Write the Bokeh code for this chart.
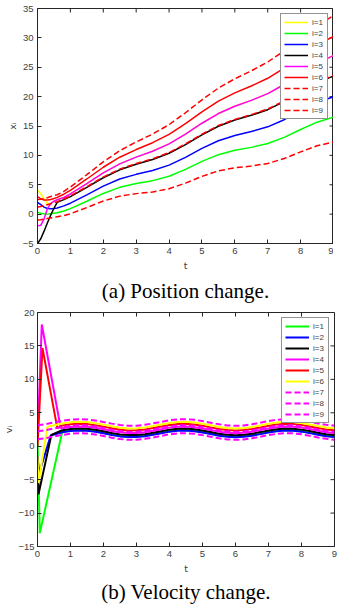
import math
from bokeh.plotting import figure
from bokeh.models import Title, FixedTicker, Range1d
from bokeh.layouts import column
from bokeh.embed import file_html
from bokeh.resources import INLINE

# ---------------- data: (a) position ----------------
t_pos = [0.0, 0.1, 0.2, 0.3, 0.4, 0.5, 0.6, 0.8, 1.0, 1.5, 2.0, 2.5, 3.0, 3.5, 4.0,
         4.5, 5.0, 5.5, 6.0, 6.5, 7.0, 7.5, 8.0, 8.5, 9.0]
x1 = [4.0, 3.5, 2.6, 1.8, 1.8, 2.2, 2.45, 2.83, 3.43, 5.19, 7.02, 8.56, 9.70, 10.70, 11.95,
      13.62, 15.47, 17.12, 18.36, 19.36, 20.51, 22.06, 23.90, 25.65, 27.00]
x2 = [0.3, 0.15, 0.05, 0.0, 0.05, 0.15, 0.25, 0.53, 0.93, 2.19, 3.52, 4.56, 5.20, 5.70, 6.45,
      7.62, 8.97, 10.12, 10.86, 11.36, 12.01, 13.06, 14.40, 15.65, 16.50]
x3 = [2.0, 1.6, 1.2, 0.95, 0.9, 0.95, 1.05, 1.40, 1.86, 3.28, 4.77, 5.97, 6.77, 7.43, 8.34,
      9.67, 11.18, 12.49, 13.39, 14.05, 14.86, 16.07, 17.57, 18.98, 19.99]
x4 = [-5.0, -4.2, -2.9, -1.5, -0.2, 1.0, 2.0, 2.46, 2.98, 4.55, 6.19, 7.54, 8.49, 9.30, 10.36,
      11.84, 13.50, 14.96, 16.01, 16.82, 17.78, 19.14, 20.79, 22.35, 23.51]
x5 = [-2.0, -1.9, -0.8, 0.9, 1.8, 2.2, 2.45, 2.83, 3.43, 5.19, 7.02, 8.56, 9.70, 10.70, 11.95,
      13.62, 15.47, 17.12, 18.36, 19.36, 20.51, 22.06, 23.90, 25.65, 27.00]
x6 = [3.0, 2.6, 2.4, 2.4, 2.5, 2.65, 2.85, 3.39, 4.06, 5.98, 7.98, 9.69, 10.99, 12.16, 13.57,
      15.40, 17.42, 19.24, 20.64, 21.81, 23.12, 24.84, 26.84, 28.76, 30.27]
x7 = [2.5, 2.55, 2.65, 2.8, 3.0, 3.15, 3.3, 3.87, 4.61, 6.72, 8.90, 10.79, 12.28, 13.63, 15.23,
      17.25, 19.45, 21.45, 23.04, 24.39, 25.89, 27.79, 29.98, 32.08, 33.78]
x8 = [1.2, 1.3, 1.45, 1.6, 1.75, 1.95, 2.1, 2.58, 3.10, 4.67, 6.31, 7.66, 8.61, 9.42, 10.48,
      11.96, 13.62, 15.08, 16.13, 16.94, 17.90, 19.26, 20.91, 22.47, 23.60]
x9 = [-1.0, -0.95, -0.85, -0.75, -0.65, -0.55, -0.45, -0.26, 0.06, 1.11, 2.23, 3.06, 3.49, 3.78, 4.32,
      5.28, 6.42, 7.36, 7.89, 8.18, 8.62, 9.46, 10.59, 11.63, 12.27]
pos_series = [x1, x2, x3, x4, x5, x6, x7, x8, x9]
pos_colors = ["#FFFF00", "#00FF00", "#0000FF", "#000000", "#FF00FF", "#FF0000",
              "#FF0000", "#FF0000", "#FF0000"]
pos_dashed = [False] * 6 + [True] * 3
labels = ["i=1", "i=2", "i=3", "i=4", "i=5", "i=6", "i=7", "i=8", "i=9"]

# ---------------- data: (b) velocity ----------------
t_steady = [0.75, 1.0, 1.25, 1.5, 1.75, 2.0, 2.25, 2.5, 2.75, 3.0, 3.25, 3.5, 3.75, 4.0,
            4.25, 4.5, 4.75, 5.0, 5.25, 5.5, 5.75, 6.0, 6.25, 6.5, 6.75, 7.0, 7.25, 7.5,
            7.75, 8.0, 8.25, 8.5, 8.75, 9.0]
v1_t0 = [0.0, 0.07]
v1_v0 = [1.0, -13.0]
v1 = [2.16, 2.34, 2.42, 2.38, 2.22, 2.00, 1.75, 1.54, 1.43, 1.44, 1.57, 1.78, 2.02, 2.25, 2.39,
      2.42, 2.32, 2.13, 1.89, 1.65, 1.48, 1.42, 1.48, 1.65, 1.88, 2.13, 2.32, 2.42, 2.39, 2.25,
      2.03, 1.78, 1.57, 1.44]
v2_t0 = [0.0, 0.05, 0.4]
v2_v0 = [-1.5, -4.0, 1.6]
v2 = [2.09, 2.27, 2.35, 2.31, 2.15, 1.93, 1.68, 1.47, 1.36, 1.37, 1.50, 1.71, 1.95, 2.18, 2.32,
      2.35, 2.25, 2.06, 1.82, 1.58, 1.41, 1.35, 1.41, 1.58, 1.81, 2.06, 2.25, 2.35, 2.32, 2.18,
      1.96, 1.71, 1.50, 1.37]
v3_t0 = [0.0, 0.03, 0.42]
v3_v0 = [-1.5, -7.2, 1.7]
v3 = [2.39, 2.57, 2.65, 2.61, 2.45, 2.23, 1.98, 1.77, 1.66, 1.67, 1.80, 2.01, 2.25, 2.48, 2.62,
      2.65, 2.55, 2.36, 2.12, 1.88, 1.71, 1.65, 1.71, 1.88, 2.11, 2.36, 2.55, 2.65, 2.62, 2.48,
      2.26, 2.01, 1.80, 1.67]
v4_t0 = [0.0, 0.13, 0.7]
v4_v0 = [1.0, 18.2, 2.8]
v4 = [2.69, 2.87, 2.95, 2.91, 2.75, 2.53, 2.28, 2.07, 1.96, 1.97, 2.10, 2.31, 2.55, 2.78, 2.92,
      2.95, 2.85, 2.66, 2.42, 2.18, 2.01, 1.95, 2.01, 2.18, 2.41, 2.66, 2.85, 2.95, 2.92, 2.78,
      2.56, 2.31, 2.10, 1.97]
v5_t0 = [0.0, 0.15, 0.6]
v5_v0 = [0.0, 14.7, 2.7]
v5 = [3.09, 3.27, 3.35, 3.31, 3.15, 2.93, 2.68, 2.47, 2.36, 2.37, 2.50, 2.71, 2.95, 3.18, 3.32,
      3.35, 3.25, 3.06, 2.82, 2.58, 2.41, 2.35, 2.41, 2.58, 2.81, 3.06, 3.25, 3.35, 3.32, 3.18,
      2.96, 2.71, 2.50, 2.37]
v6_t0 = [0.0, 0.03, 0.3]
v6_v0 = [-1.5, -5.5, 2.9]
v6 = [3.39, 3.57, 3.65, 3.61, 3.45, 3.23, 2.98, 2.77, 2.66, 2.67, 2.80, 3.01, 3.25, 3.48, 3.62,
      3.65, 3.55, 3.36, 3.12, 2.88, 2.71, 2.65, 2.71, 2.88, 3.11, 3.36, 3.55, 3.65, 3.62, 3.48,
      3.26, 3.01, 2.80, 2.67]
v7_t0 = [0.0, 0.25, 0.5]
v7_v0 = [3.13, 3.31, 3.55]
v7 = [3.79, 3.97, 4.05, 4.01, 3.85, 3.63, 3.38, 3.17, 3.06, 3.07, 3.20, 3.41, 3.65, 3.88, 4.02,
      4.05, 3.95, 3.76, 3.52, 3.28, 3.11, 3.05, 3.11, 3.28, 3.51, 3.76, 3.95, 4.05, 4.02, 3.88,
      3.66, 3.41, 3.20, 3.07]
v8_t0 = [0.0, 0.25, 0.5]
v8_v0 = [2.23, 2.41, 2.65]
v8 = [2.89, 3.07, 3.15, 3.11, 2.95, 2.73, 2.48, 2.27, 2.16, 2.17, 2.30, 2.51, 2.75, 2.98, 3.12,
      3.15, 3.05, 2.86, 2.62, 2.38, 2.21, 2.15, 2.21, 2.38, 2.61, 2.86, 3.05, 3.15, 3.12, 2.98,
      2.76, 2.51, 2.30, 2.17]
v9_t0 = [0.0, 0.25, 0.5]
v9_v0 = [1.03, 1.21, 1.45]
v9 = [1.69, 1.87, 1.95, 1.91, 1.75, 1.53, 1.28, 1.07, 0.96, 0.97, 1.10, 1.31, 1.55, 1.78, 1.92,
      1.95, 1.85, 1.66, 1.42, 1.18, 1.01, 0.95, 1.01, 1.18, 1.41, 1.66, 1.85, 1.95, 1.92, 1.78,
      1.56, 1.31, 1.10, 0.97]
vel_t0 = [v1_t0, v2_t0, v3_t0, v4_t0, v5_t0, v6_t0, v7_t0, v8_t0, v9_t0]
vel_v0 = [v1_v0, v2_v0, v3_v0, v4_v0, v5_v0, v6_v0, v7_v0, v8_v0, v9_v0]
vel_series = [v1, v2, v3, v4, v5, v6, v7, v8, v9]
vel_colors = ["#00FF00", "#0000FF", "#000000", "#FF00FF", "#FF0000", "#FFFF00",
              "#FF00FF", "#FF00FF", "#FF00FF"]
vel_dashed = [False] * 6 + [True] * 3

x_ticks = [0, 1, 2, 3, 4, 5, 6, 7, 8, 9]
y_ticks_a = [-5, 0, 5, 10, 15, 20, 25, 30, 35]
y_ticks_b = [-15, -10, -5, 0, 5, 10, 15, 20]

AX = "#262626"
LBL = "#404040"
SANS = "Liberation Sans"


def style_axis(ax, tick_standoff):
    ax.axis_line_color = AX
    ax.axis_line_width = 1
    ax.major_tick_in = 4
    ax.major_tick_out = 0
    ax.major_tick_line_color = AX
    ax.minor_tick_line_color = None
    ax.major_label_text_font = SANS
    ax.major_label_text_color = LBL
    ax.major_label_text_font_size = "9.5px"
    ax.major_label_standoff = tick_standoff
    ax.axis_label_text_font = "DejaVu Sans"
    ax.axis_label_text_font_style = "normal"
    ax.axis_label_text_color = LBL
    ax.axis_label_text_font_size = "9.5px"


def make_panel(yr, yticks, ylabel, caption, borders, frame, cap_standoff, ystand):
    left, right, top, bottom = borders
    fw, fh = frame
    p = figure(frame_width=fw, frame_height=fh, x_range=Range1d(0, 9), y_range=yr,
               output_backend="svg", toolbar_location=None,
               min_border_left=left, min_border_right=right,
               min_border_top=top, min_border_bottom=bottom)
    p.grid.visible = False
    p.outline_line_color = AX
    p.outline_line_width = 1
    p.background_fill_color = "white"
    p.border_fill_color = "white"
    p.xaxis.ticker = FixedTicker(ticks=x_ticks)
    p.yaxis.ticker = FixedTicker(ticks=yticks)
    p.xaxis.axis_label = "t"
    p.yaxis.axis_label = ylabel
    for ax in p.xaxis:
        style_axis(ax, 4)
    for ax in p.yaxis:
        style_axis(ax, ystand[0])
    p.xaxis.axis_label_standoff = 3
    p.yaxis.axis_label_standoff = ystand[1]
    # inward tick marks on the right and top edges of the box
    p.ray(x=[9] * len(yticks), y=yticks, length=4, length_units="screen",
          angle=math.pi, line_color=AX, line_width=1)
    p.ray(x=x_ticks, y=[yr.end] * len(x_ticks), length=4, length_units="screen",
          angle=-math.pi / 2, line_color=AX, line_width=1)
    p.add_layout(Title(text=caption, align="center", text_font="Liberation Serif",
                       text_font_size="21px", text_font_style="normal",
                       text_color="#000000", standoff=cap_standoff), "below")
    return p


def style_legend(p):
    lg = p.legend[0]
    lg.location = "top_right"
    lg.margin = 5
    lg.padding = 3
    lg.spacing = 1
    lg.glyph_width = 24
    lg.glyph_height = 10
    lg.label_height = 10
    lg.label_width = 12
    lg.label_standoff = 4
    lg.label_text_font = SANS
    lg.label_text_font_size = "8px"
    lg.label_text_color = LBL
    lg.border_line_color = AX
    lg.border_line_width = 1
    lg.background_fill_alpha = 1.0


# ---- panel (a)
p1 = make_panel(Range1d(-5, 35), y_ticks_a, "x\u1d62", "(a) Position change.",
                (31, 3, 8, 62), (296, 235), 6, (4, 2))
for ys, c, d, lab in zip(pos_series, pos_colors, pos_dashed, labels):
    p1.line(t_pos, ys, line_color=c, line_width=1.5,
            line_dash="6 3" if d else "solid", legend_label=lab)
style_legend(p1)

# ---- panel (b)
p2 = make_panel(Range1d(-15, 20), y_ticks_b, "v\u1d62", "(b) Velocity change.",
                (29, 4, 7, 59), (297, 234), 3, (3, 1))
for t0, v0, ys, c, d, lab in zip(vel_t0, vel_v0, vel_series, vel_colors, vel_dashed, labels):
    p2.line(t0 + t_steady, v0 + ys, line_color=c, line_width=2,
            line_dash="6 3" if d else "solid", legend_label=lab)
style_legend(p2)

layout = column(p1, p2, spacing=0)
open("out.html", "w").write(file_html(layout, INLINE))
